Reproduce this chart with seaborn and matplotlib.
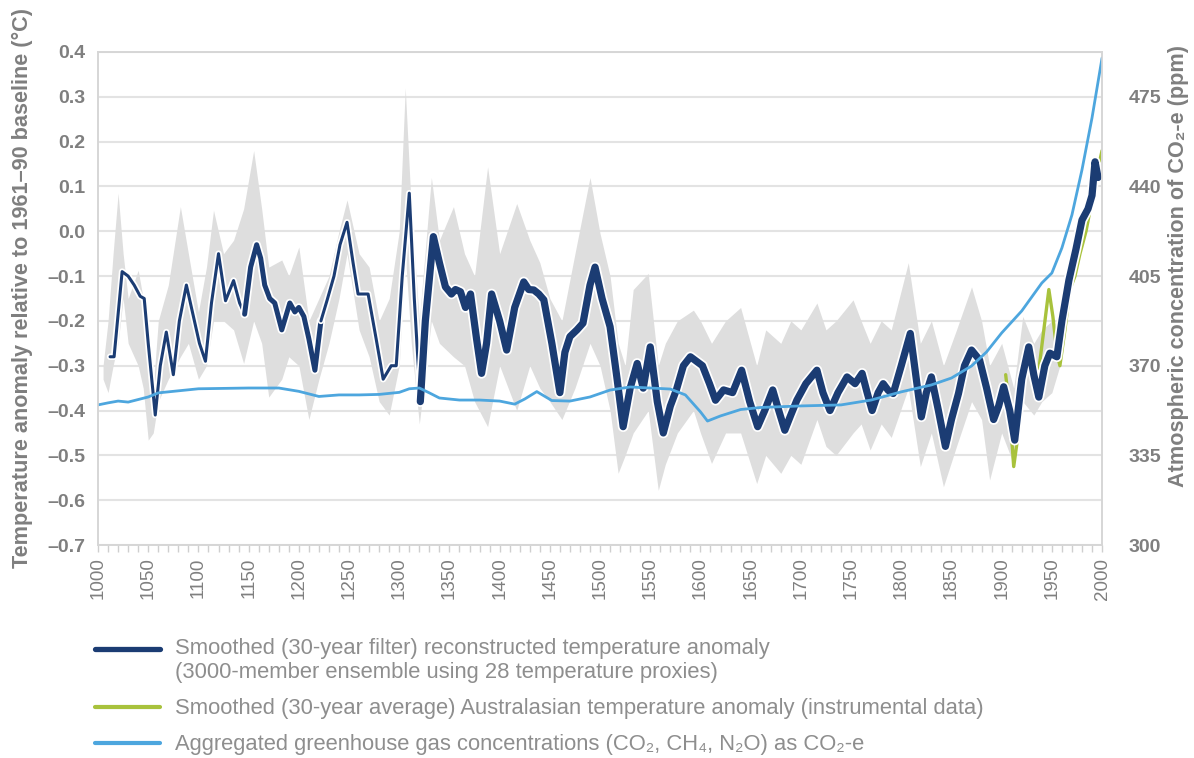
import matplotlib
matplotlib.use("Agg")
import matplotlib.pyplot as plt
import matplotlib.patheffects as pe
from matplotlib.lines import Line2D
from matplotlib.ticker import MultipleLocator
import pandas as pd
import seaborn as sns

# smoothed (30-yr filter) reconstructed temperature anomaly, deg C
recon_years = [1012, 1016, 1024, 1030, 1036, 1042, 1046, 1050, 1057, 1062,
               1068, 1075, 1081, 1088, 1095, 1101, 1107, 1113, 1120, 1127,
               1135, 1141, 1146, 1152, 1158, 1162, 1166, 1171, 1176, 1183,
               1191, 1196, 1200, 1205, 1210, 1216, 1222, 1228, 1235, 1241,
               1248, 1254, 1259, 1264, 1269, 1277, 1284, 1292, 1297, 1303,
               1310, 1315, 1321, 1326, 1334, 1340, 1346, 1352, 1356, 1361,
               1366, 1371, 1377, 1382, 1387, 1392, 1400, 1407, 1415, 1424,
               1429, 1434, 1439, 1444, 1452, 1460, 1465, 1470, 1477, 1483,
               1490, 1495, 1502, 1510, 1517, 1523, 1530, 1537, 1543, 1550,
               1557, 1563, 1570, 1576, 1583, 1590, 1596, 1602, 1609, 1615,
               1623, 1632, 1641, 1649, 1657, 1664, 1672, 1678, 1684, 1690,
               1696, 1705, 1716, 1722, 1729, 1737, 1746, 1754, 1761, 1766,
               1771, 1777, 1782, 1787, 1792, 1800, 1809, 1815, 1820, 1825,
               1830, 1837, 1844, 1850, 1857, 1863, 1870, 1878, 1885, 1892,
               1897, 1902, 1908, 1913, 1920, 1927, 1932, 1937, 1943, 1948,
               1955, 1960, 1967, 1974, 1980, 1986, 1990, 1993, 1996]
recon_temp = [-0.28, -0.28, -0.09, -0.10, -0.12, -0.145, -0.15, -0.25, -0.41, -0.30,
              -0.225, -0.32, -0.20, -0.12, -0.19, -0.25, -0.29, -0.16, -0.05, -0.155,
              -0.11, -0.16, -0.185, -0.08, -0.03, -0.06, -0.12, -0.15, -0.16, -0.22,
              -0.16, -0.18, -0.17, -0.19, -0.24, -0.31, -0.20, -0.155, -0.10, -0.03,
              0.02, -0.07, -0.14, -0.14, -0.14, -0.24, -0.33, -0.30, -0.30, -0.10,
              0.085, -0.15, -0.38, -0.20, -0.012, -0.07, -0.124, -0.14, -0.13, -0.135,
              -0.17, -0.14, -0.24, -0.317, -0.25, -0.14, -0.20, -0.265, -0.17, -0.113,
              -0.13, -0.131, -0.14, -0.153, -0.25, -0.36, -0.27, -0.235, -0.22, -0.205,
              -0.12, -0.08, -0.15, -0.213, -0.33, -0.436, -0.35, -0.295, -0.35, -0.258,
              -0.38, -0.45, -0.39, -0.354, -0.30, -0.28, -0.29, -0.30, -0.34, -0.377,
              -0.354, -0.36, -0.31, -0.38, -0.436, -0.40, -0.354, -0.40, -0.444, -0.41,
              -0.377, -0.34, -0.31, -0.36, -0.40, -0.36, -0.325, -0.34, -0.317, -0.36,
              -0.40, -0.36, -0.34, -0.355, -0.362, -0.30, -0.228, -0.33, -0.414, -0.36,
              -0.325, -0.40, -0.48, -0.42, -0.362, -0.30, -0.265, -0.287, -0.35, -0.42,
              -0.39, -0.347, -0.40, -0.466, -0.33, -0.258, -0.32, -0.37, -0.30, -0.272,
              -0.28, -0.20, -0.109, -0.04, 0.025, 0.05, 0.08, 0.155, 0.12]

# ensemble spread (grey envelope)
band_years = [1005, 1010, 1015, 1020, 1025, 1030, 1040, 1045, 1050, 1055,
              1060, 1070, 1082, 1090, 1100, 1108, 1115, 1125, 1135, 1145,
              1155, 1163, 1170, 1183, 1190, 1200, 1210, 1220, 1230, 1240,
              1248, 1260, 1270, 1280, 1290, 1300, 1306, 1312, 1320, 1332,
              1340, 1354, 1365, 1375, 1388, 1400, 1417, 1430, 1440, 1450,
              1462, 1475, 1490, 1500, 1510, 1518, 1525, 1533, 1548, 1558,
              1565, 1577, 1593, 1600, 1611, 1625, 1640, 1656, 1665, 1680,
              1690, 1700, 1716, 1725, 1735, 1752, 1760, 1769, 1780, 1790,
              1807, 1819, 1830, 1842, 1855, 1870, 1880, 1888, 1900, 1912,
              1921, 1932, 1940, 1950, 1958]
band_hi = [-0.30, -0.20, -0.05, 0.085, -0.05, -0.15, -0.087, -0.15, -0.25, -0.35,
           -0.20, -0.12, 0.055, -0.05, -0.18, -0.08, 0.047, -0.05, -0.02, 0.05,
           0.18, 0.05, -0.08, -0.064, -0.10, -0.035, -0.20, -0.15, -0.10, 0.0,
           0.07, -0.05, -0.08, -0.20, -0.15, 0.0, 0.32, 0.05, -0.20, 0.12,
           -0.02, 0.055, -0.05, -0.10, 0.144, -0.05, 0.062, -0.02, -0.07, -0.15,
           -0.20, -0.05, 0.12, -0.005, -0.10, -0.25, -0.30, -0.13, -0.094, -0.30,
           -0.25, -0.20, -0.176, -0.20, -0.25, -0.20, -0.17, -0.30, -0.22, -0.25,
           -0.20, -0.22, -0.16, -0.22, -0.20, -0.153, -0.20, -0.25, -0.20, -0.22,
           -0.07, -0.25, -0.20, -0.30, -0.22, -0.124, -0.20, -0.30, -0.25, -0.35,
           -0.19, -0.25, -0.22, -0.20, -0.26]
band_lo = [-0.33, -0.36, -0.30, -0.25, -0.15, -0.25, -0.30, -0.35, -0.466, -0.45,
           -0.38, -0.33, -0.28, -0.25, -0.33, -0.30, -0.20, -0.20, -0.22, -0.295,
           -0.20, -0.25, -0.37, -0.33, -0.28, -0.30, -0.42, -0.33, -0.25, -0.15,
           -0.05, -0.22, -0.28, -0.38, -0.41, -0.30, -0.05, -0.25, -0.43, -0.20,
           -0.25, -0.28, -0.30, -0.38, -0.436, -0.30, -0.40, -0.30, -0.35, -0.38,
           -0.42, -0.35, -0.25, -0.30, -0.40, -0.54, -0.50, -0.45, -0.40, -0.578,
           -0.52, -0.45, -0.40, -0.45, -0.518, -0.45, -0.45, -0.563, -0.50, -0.54,
           -0.50, -0.52, -0.42, -0.48, -0.50, -0.45, -0.43, -0.488, -0.43, -0.46,
           -0.35, -0.525, -0.45, -0.57, -0.48, -0.38, -0.42, -0.555, -0.45, -0.52,
           -0.38, -0.41, -0.38, -0.36, -0.30]

# smoothed (30-yr average) Australasian instrumental anomaly
instr_years = [1904, 1908, 1912, 1916, 1920, 1924, 1928, 1933, 1937, 1942, 1947,
               1951, 1955, 1958, 1963, 1968, 1973, 1978, 1984, 1990, 1995, 2000]
instr_temp = [-0.32, -0.40, -0.525, -0.46, -0.36, -0.31, -0.295, -0.33, -0.31, -0.22, -0.13,
              -0.19, -0.27, -0.30, -0.22, -0.13, -0.10, -0.05, 0.0, 0.07, 0.13, 0.18]

# aggregated greenhouse gases as CO2-e, ppm
ghg_years = [1000, 1010, 1020, 1030, 1040, 1050, 1060, 1080, 1100, 1150,
             1180, 1200, 1220, 1240, 1260, 1280, 1300, 1310, 1320, 1330,
             1340, 1360, 1380, 1400, 1415, 1425, 1437, 1452, 1470, 1490,
             1510, 1530, 1550, 1570, 1585, 1600, 1607, 1620, 1640, 1660,
             1700, 1740, 1770, 1800, 1830, 1850, 1870, 1885, 1900, 1920,
             1940, 1950, 1960, 1970, 1980, 1990, 2000]
ghg_ppm = [354.7, 355.5, 356.2, 355.8, 356.8, 357.8, 359.4, 360.2, 361.0, 361.3,
           361.3, 360.0, 358.0, 358.6, 358.6, 358.8, 359.6, 361.0, 361.3, 359.4,
           357.4, 356.6, 356.6, 356.2, 355.0, 357.0, 359.9, 356.4, 356.2, 357.8,
           360.5, 361.7, 361.3, 360.9, 358.6, 352.0, 348.4, 350.4, 352.9, 353.7,
           354.3, 354.7, 356.6, 359.8, 362.5, 365.2, 369.9, 375.4, 382.8, 391.4,
           402.3, 406.2, 416.0, 428.9, 446.5, 466.8, 490.2]

temp_ticks = [0.4, 0.3, 0.2, 0.1, 0.0, -0.1, -0.2, -0.3, -0.4, -0.5, -0.6, -0.7]
ppm_ticks = [300, 335, 370, 405, 440, 475]
year_ticks = list(range(1000, 2001, 50))

legend_labels = [
    "Smoothed (30-year filter) reconstructed temperature anomaly\n"
    "(3000-member ensemble using 28 temperature proxies)",
    "Smoothed (30-year average) Australasian temperature anomaly (instrumental data)",
    "Aggregated greenhouse gas concentrations (CO\u2082, CH\u2084, N\u2082O) as CO\u2082-e",
]

NAVY = "#1b3c73"
GREEN = "#a8c23c"
SKY = "#4da6de"
BAND = "#dedede"
GRID = "#e3e3e3"
TXT = "#7f7f7f"
LEG_TXT = "#8e8e8e"

recon = pd.DataFrame({"year": recon_years, "temp": recon_temp})
band = pd.DataFrame({"year": band_years, "hi": band_hi, "lo": band_lo})
instr = pd.DataFrame({"year": instr_years, "temp": instr_temp})
ghg = pd.DataFrame({"year": ghg_years, "ppm": ghg_ppm})

sns.set_theme(style="white")
plt.rcParams["font.family"] = ["Liberation Sans", "DejaVu Sans"]

fig = plt.figure(figsize=(11.94, 7.58), dpi=100)
ax = fig.add_axes([0.0821, 0.281, 0.8409, 0.6504])
ax2 = ax.twinx()

ax.fill_between(band["year"], band["lo"], band["hi"], color=BAND, lw=0, zorder=1)

# line gets heavier where the ensemble is better constrained
segments = [(1012, 1146, 2.2), (1146, 1222, 3.6), (1222, 1321, 2.2), (1321, 1996, 5.2)]
for start, end, lw in segments:
    part = recon[(recon.year >= start) & (recon.year <= end)]
    sns.lineplot(data=part, x="year", y="temp", ax=ax, color=NAVY, linewidth=lw,
                 estimator=None, sort=False, solid_joinstyle="round",
                 solid_capstyle="round", zorder=3,
                 path_effects=[pe.Stroke(linewidth=lw + 2.5, foreground="white"), pe.Normal()])

sns.lineplot(data=instr, x="year", y="temp", ax=ax, color=GREEN, linewidth=2.4,
             estimator=None, sort=False, zorder=2.5)
sns.lineplot(data=ghg, x="year", y="ppm", ax=ax2, color=SKY, linewidth=2.0,
             estimator=None, sort=False)

ax.set_xlim(1000, 2000)
ax.set_ylim(-0.7, 0.4)
ax2.set_ylim(300, 492.5)

ax.set_yticks(temp_ticks, [f"{t:.1f}".replace("-", "\u2013") for t in temp_ticks],
              fontweight="bold")
ax2.set_yticks(ppm_ticks, [str(p) for p in ppm_ticks], fontweight="bold")
ax.set_xticks(year_ticks, [str(y) for y in year_ticks], rotation=90)
ax.xaxis.set_minor_locator(MultipleLocator(10))

ax.tick_params(axis="y", length=0, pad=9, labelsize=14, labelcolor=TXT)
ax2.tick_params(axis="y", length=0, pad=19, labelsize=14, labelcolor=TXT)
ax.tick_params(axis="x", which="both", bottom=True, length=5, width=1,
               color="#cfcfcf", labelsize=13.5, labelcolor=TXT, pad=4)

ax.grid(axis="y", color=GRID, lw=1.5)
ax.grid(axis="x", visible=False)
ax2.grid(False)
for a in (ax, ax2):
    for s in a.spines.values():
        s.set_color("#d6d6d6")
        s.set_linewidth(1.2)

ax.set_xlabel("")
ax.set_ylabel("Temperature anomaly relative to 1961\u201390 baseline (\u00b0C)",
              fontsize=15.6, fontweight="bold", color=TXT)
ax2.set_ylabel("Atmospheric concentration of CO\u2082-e (ppm)",
               fontsize=15.6, fontweight="bold", color=TXT)
ax.yaxis.set_label_coords(-0.0647, 0.521)
ax2.yaxis.set_label_coords(1.0657, 0.566)

leg_fs = 15.8
handles = [Line2D([], [], color=NAVY, lw=3.8),
           Line2D([], [], color=GREEN, lw=3),
           Line2D([], [], color=SKY, lw=3)]
leg = fig.legend(handles, legend_labels, loc="upper left", bbox_to_anchor=(0.0796, 0.158),
                 frameon=False, fontsize=leg_fs, labelcolor=LEG_TXT, handlelength=2.97,
                 handletextpad=0.68, labelspacing=0.68, borderpad=0, borderaxespad=0)
# first handle sits level with the first line of its two-line label
h0 = leg.legend_handles[0]
h0.set_ydata([y + 0.55 * leg_fs for y in h0.get_ydata()])

fig.savefig("out.png", dpi=100)
